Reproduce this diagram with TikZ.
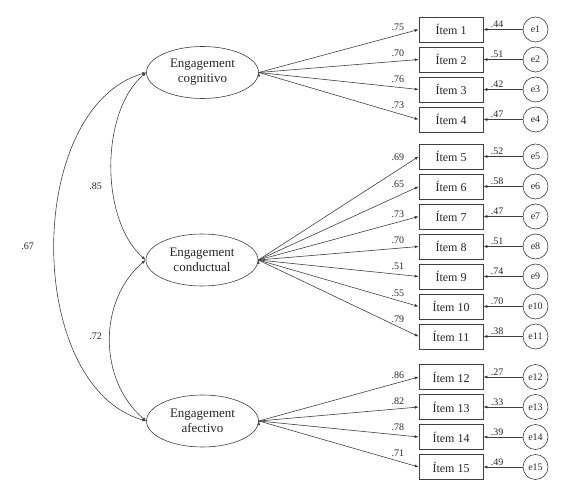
\documentclass[tikz,border=0pt]{standalone}
\usepackage{fontspec}
\setmainfont{Liberation Serif}
\usetikzlibrary{arrows.meta,shapes.geometric}

\begin{document}
\begin{tikzpicture}[x=1pt,y=-1pt]
      \tikzset{
        node distance=30pt,
        every node/.style={inner sep=0pt,text=black!85},
        factor/.style={ellipse,draw=black!75,line width=.6pt,minimum width=112pt,minimum height=52pt,align=center,font=\fontsize{13}{15}\selectfont},
        item/.style={rectangle,draw=black!75,line width=.6pt,minimum width=64pt,minimum height=25pt,font=\fontsize{12}{14}\selectfont},
        err/.style={circle,draw=black!75,line width=.6pt,minimum size=25pt,font=\fontsize{10}{12}\selectfont},
        coef/.style={font=\fontsize{10}{12}\selectfont,inner sep=1.5pt},
        lbl/.style={coef,pos=.87,above=2.5pt},
        elbl/.style={coef,pos=.65,above},
        load/.style={draw=black!75,line width=.6pt,-{Latex[length=4pt,width=3pt]}},
        corr/.style={draw=black!75,line width=.6pt,{Latex[length=4pt,width=3pt]}-{Latex[length=4pt,width=3pt]}}
      }
      \useasboundingbox (0,0) rectangle (586,486);

      % factores
      \node[factor] (f1) at (202.5,72.5) {Engagement\\cognitivo};
      \node[factor] (f2) at (202,260) {Engagement\\conductual};
      \node[factor] (f3) at (202.5,421) {Engagement\\afectivo};

      % items
      \node[item] (i1) at (451,29.5) {Ítem 1};
      \node[item,below of=i1] (i2) {Ítem 2};
      \node[item,below of=i2] (i3) {Ítem 3};
      \node[item,below of=i3] (i4) {Ítem 4};

      \node[item] (i5) at (451,156.5) {Ítem 5};
      \node[item,below of=i5] (i6) {Ítem 6};
      \node[item,below of=i6] (i7) {Ítem 7};
      \node[item,below of=i7] (i8) {Ítem 8};
      \node[item,below of=i8] (i9) {Ítem 9};
      \node[item,below of=i9] (i10) {Ítem 10};
      \node[item,below of=i10] (i11) {Ítem 11};

      \node[item] (i12) at (451,377) {Ítem 12};
      \node[item,below of=i12] (i13) {Ítem 13};
      \node[item,below of=i13] (i14) {Ítem 14};
      \node[item,below of=i14] (i15) {Ítem 15};

      % errores
      \begin{scope}[node distance=84.5pt]
      \node[err,right of=i1] (e1) {e1};
      \node[err,right of=i2] (e2) {e2};
      \node[err,right of=i3] (e3) {e3};
      \node[err,right of=i4] (e4) {e4};
      \node[err,right of=i5] (e5) {e5};
      \node[err,right of=i6] (e6) {e6};
      \node[err,right of=i7] (e7) {e7};
      \node[err,right of=i8] (e8) {e8};
      \node[err,right of=i9] (e9) {e9};
      \node[err,right of=i10] (e10) {e10};
      \node[err,right of=i11] (e11) {e11};
      \node[err,right of=i12] (e12) {e12};
      \node[err,right of=i13] (e13) {e13};
      \node[err,right of=i14] (e14) {e14};
      \node[err,right of=i15] (e15) {e15};
      \end{scope}

      % cargas factoriales
      \draw[load] (f1.east) edge node[lbl] {.75} (i1.west)
                            edge node[lbl] {.70} (i2.west)
                            edge node[lbl] {.76} (i3.west)
                            edge node[lbl] {.73} (i4.west);
      \draw[load] (f2.east) edge node[lbl,above=5.5pt] {.69} (i5.west)
                            edge node[lbl,above=4pt] {.65} (i6.west)
                            edge node[lbl] {.73} (i7.west)
                            edge node[lbl] {.70} (i8.west)
                            edge node[lbl] {.51} (i9.west)
                            edge node[lbl] {.55} (i10.west)
                            edge node[lbl] {.79} (i11.west);
      \draw[load] (f3.east) edge node[lbl] {.86} (i12.west)
                            edge node[lbl] {.82} (i13.west)
                            edge node[lbl] {.78} (i14.west)
                            edge node[lbl] {.71} (i15.west);

      % errores a items
      \draw[load] (e1) edge node[elbl] {.44} (i1)
                  (e2) edge node[elbl] {.51} (i2)
                  (e3) edge node[elbl] {.42} (i3)
                  (e4) edge node[elbl] {.47} (i4)
                  (e5) edge node[elbl] {.52} (i5)
                  (e6) edge node[elbl] {.58} (i6)
                  (e7) edge node[elbl] {.47} (i7)
                  (e8) edge node[elbl] {.51} (i8)
                  (e9) edge node[elbl] {.74} (i9)
                  (e10) edge node[elbl] {.70} (i10)
                  (e11) edge node[elbl] {.38} (i11)
                  (e12) edge node[elbl] {.27} (i12)
                  (e13) edge node[elbl] {.33} (i13)
                  (e14) edge node[elbl] {.39} (i14)
                  (e15) edge node[elbl] {.49} (i15);

      % correlaciones
      \draw[corr] (f1.west) .. controls (100,112) and (100,220) .. (f2.west);
      \draw[corr] (f2.west) .. controls (98,300) and (98,380) .. (f3.west);
      \draw[corr] (f1.west) .. controls (24,108) and (24,386) .. (f3.west);
      \node[coef] (r12) at (95.5,186) {.85};
      \node[coef] (r23) at (95.5,336) {.72};
      \node[coef] (r13) at (27.5,246) {.67};
    \end{tikzpicture}
\end{document}
